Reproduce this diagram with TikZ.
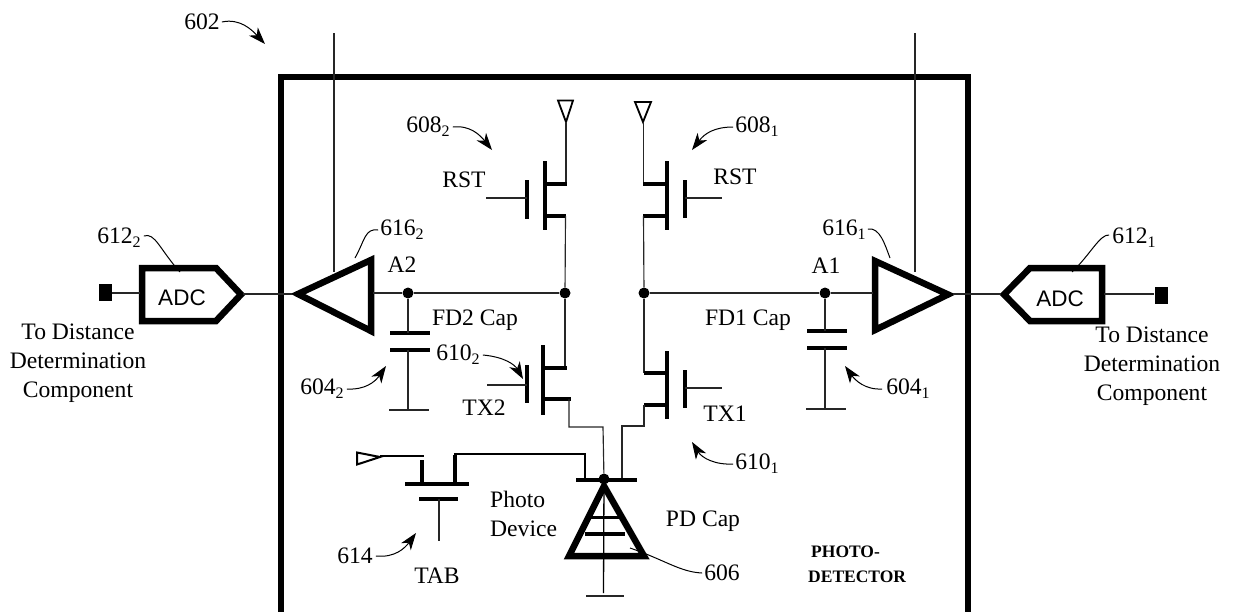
\documentclass[tikz,border=0pt]{standalone}
\usepackage{fontspec}
\setmainfont{Liberation Serif}
\newfontfamily\adcfont{Liberation Sans}
\usetikzlibrary{arrows.meta}
\newcommand{\subnum}[1]{\raisebox{-4pt}{\fontsize{16}{18}\selectfont #1}}
\tikzset{
  x=1pt,y=-1pt,
  wire/.style={line width=1.15pt,black!85},
  term/.style={line width=3.2pt,line cap=butt},
  plate/.style={line width=4.2pt},
  heavy/.style={line width=6.5pt,line join=miter},
  txt/.style={inner sep=0pt,font=\fontsize{23.6}{27}\selectfont},
  boldtxt/.style={inner sep=0pt,font=\fontsize{17.5}{20}\selectfont\bfseries},
  adctxt/.style={inner sep=0pt,font=\fontsize{22.5}{26}\selectfont\adcfont},
  leader/.style={line width=1pt},
  pointer/.style={line width=1pt,-{Stealth[length=17pt,width=12pt,inset=5pt]}},
  junction/.style={circle,fill=black,inner sep=0pt,minimum size=11pt},
  pad/.style={fill=black,inner sep=0pt,minimum width=13pt,minimum height=17pt},
}
\begin{document}
\begin{tikzpicture}
\useasboundingbox (0,0) rectangle (1234,611);
% frame
\draw[line width=6.5pt] (281,640) -- (281,77) -- (968,77) -- (968,640);
\coordinate (top2) at (334,33); \coordinate (bias2) at (334,272);
\coordinate (top1) at (915,33); \coordinate (bias1) at (915,272);
\draw[wire] (top2) -- (bias2);
\draw[wire] (top1) -- (bias1);
% junctions
\node[junction] (a2) at (408,293) {};
\node[junction] (n2) at (565,293) {};
\node[junction] (n1) at (644,293) {};
\node[junction] (a1) at (825,293) {};
\node[junction] (pdt) at (604,479) {};
% ADCs and pads
\node[pad] (padl) at (105,292) {};
\node[pad] (padr) at (1161,295) {};
\draw[heavy] (142,268) -- (216,268) -- (241,294.5) -- (216,321) -- (142,321) -- cycle;
\draw[heavy] (1102,268) -- (1030,268) -- (1004,294.5) -- (1030,321) -- (1102,321) -- cycle;
\node[adctxt] (adcl) at (182,298) {ADC};
\node[adctxt] (adcr) at (1060,299) {ADC};
% amplifiers
\draw[heavy] (371,260) -- (298,294) -- (371,331) -- cycle;
\draw[heavy] (875,261) -- (948,294.5) -- (875,330) -- cycle;
% signal wires
\draw[wire] (padl.east|-0,293) -- (140,293);
\draw[wire] (243,294) -- (292,294);
\draw[wire] (373,293) -- (a2) -- (n2);
\draw[wire] (n1) -- (a1) -- (873,293);
\draw[wire] (953,294) -- (1001,294);
\draw[wire] (1104,294) -- (padr.west|-0,294);
% FD capacitors
\draw[plate] (390,333) -- (430,333);
\draw[plate] (390,350) -- (430,350);
\draw[wire] (a2) -- (408,333) (408,350) -- (408,409);
\draw[wire] (389,410) -- (429,410);
\draw[plate] (807,331) -- (847,331);
\draw[plate] (807,348) -- (847,348);
\draw[wire] (a1) -- (825,331) (825,348) -- (825,409);
\draw[wire] (806,409) -- (846,409);
% reset transistor 2
\draw[line width=1.8pt] (558,100.5) -- (573,100.5) -- (566,122) -- cycle;
\draw[wire] (566,122) -- (566,184);
\draw[plate] (545,161) -- (545,230);
\draw[term] (545,184) -- (566.5,184);
\draw[term] (545,216) -- (566,216);
\draw[wire] (565.5,216) -- (n2);
\draw[plate] (527,180) -- (527,219);
\draw[wire] (486,198) -- (527,198);
% reset transistor 1
\draw[line width=1.8pt] (635,102) -- (651,102) -- (643,122) -- cycle;
\draw[wire] (643.5,122) -- (643.5,184);
\draw[plate] (667,161) -- (667,230);
\draw[term] (643,184) -- (667,184);
\draw[term] (643,216) -- (667,216);
\draw[wire] (643.5,216) -- (n1);
\draw[plate] (685,180) -- (685,218);
\draw[wire] (685,198) -- (722,198);
% transfer transistor 2
\draw[wire] (n2) -- (565,368);
\draw[plate] (543,345) -- (543,415);
\draw[term] (543,368) -- (567,368);
\draw[term] (543,399) -- (571,399);
\draw[wire] (569,399) -- (569,427) -- (603,427) -- (pdt);
\draw[plate] (527,365) -- (527,403);
\draw[wire] (487,385) -- (527,385);
% transfer transistor 1
\draw[wire] (n1) -- (644,373);
\draw[plate] (667,351) -- (667,419);
\draw[term] (644,373) -- (667,373);
\draw[term] (644,405) -- (667,405);
\draw[wire] (644,405) -- (644,426) -- (622,426) -- (622,480);
\draw[plate] (685,370) -- (685,408);
\draw[wire] (685,388) -- (722,388);
% photo device
\draw[line width=6.5pt,line join=miter] (604,486) -- (569,556) -- (644,556) -- cycle;
\draw[term] (576,480) -- (637,480);
\draw[line width=1.3pt] (pdt) -- (603.5,593);
\draw[wire] (586,596) -- (624,596);
\draw[line width=3pt] (590,517) -- (620,517);
\draw[plate] (585,534) -- (625,534);
% TAB transistor
\draw[line width=2pt] (380,457) -- (357,452.5) -- (357,464.5) -- cycle;
\draw[line width=1.4pt] (380,456) -- (424,456);
\draw[term] (422,460) -- (422,484);
\draw[term] (455,455) -- (455,484);
\draw[term] (405,484) -- (469,484);
\draw[line width=2.2pt] (454,454) -- (585,454) -- (585,480);
\draw[term] (419,499) -- (458,499);
\draw[wire] (439,499) -- (439,541);
% texts
\node[txt] (l602) at (202,22) {602};
\node[txt] (l6082) at (428,127) {608\subnum{2}};
\node[txt] (l6081) at (757,127) {608\subnum{1}};
\node[txt] (rstl) at (464,180) {RST};
\node[txt] (rstr) at (735,177) {RST};
\node[txt] (la2) at (402,265) {A2};
\node[txt] (la1) at (826,266) {A1};
\node[txt] (fd2) at (475,320) {FD2 Cap};
\node[txt] (fd1) at (748,320) {FD1 Cap};
\node[txt] (l6102) at (458,355) {610\subnum{2}};
\node[txt] (l6101) at (757,464) {610\subnum{1}};
\node[txt] (tx2) at (484,408) {TX2};
\node[txt] (tx1) at (725,414) {TX1};
\node[txt] (l6042) at (322,389) {604\subnum{2}};
\node[txt] (l6041) at (908,389) {604\subnum{1}};
\node[txt] (l6122) at (119,238) {612\subnum{2}};
\node[txt] (l6121) at (1134,238) {612\subnum{1}};
\node[txt] (l6162) at (402,230) {616\subnum{2}};
\node[txt] (l6161) at (844,230) {616\subnum{1}};
\node[txt,align=center] (distl) at (78,363) {To Distance\\[2pt]Determination\\[2pt]Component};
\node[txt,align=center] (distr) at (1152,366) {To Distance\\[2pt]Determination\\[2pt]Component};
\node[txt,anchor=west] (photo) at (490,499) {Photo};
\node[txt,anchor=west] (device) at (490,529) {Device};
\node[txt] (pdcap) at (703,521) {PD Cap};
\node[txt] (tab) at (437,576) {TAB};
\node[txt] (l614) at (355,556) {614};
\node[txt] (l606) at (722,573) {606};
\node[boldtxt,anchor=west] (pd1) at (811,552) {PHOTO-};
\node[boldtxt,anchor=west] (pd2) at (808,577) {DETECTOR};
% pointers and leaders
\coordinate (t602) at (265,44);
\coordinate (t6082) at (492,150);
\coordinate (t6081) at (692,150);
\coordinate (t6102) at (523,379);
\coordinate (t6101) at (692,442);
\coordinate (t6042) at (386,366);
\coordinate (t6041) at (845,366);
\coordinate (t614) at (416,533);
\coordinate (e6122) at (180,272);
\coordinate (e6121) at (1072,272);
\coordinate (e6162) at (355,258);
\coordinate (e6161) at (890,258);
\coordinate (e606) at (630,548);
\draw[pointer] (l602.east) ++(2,0) .. controls (240,18) and (252,30) .. (t602);
\draw[pointer] (l6082.east) ++(3,0) .. controls (470,125) and (480,135) .. (t6082);
\draw[pointer] (l6081.west) ++(-2,0) .. controls (715,127) and (705,133) .. (t6081);
\draw[pointer] (l6102.east) ++(3,0) .. controls (505,357) and (515,365) .. (t6102);
\draw[pointer] (l6101.west) ++(-2,0) .. controls (715,465) and (702,458) .. (t6101);
\draw[pointer] (l6042.east) ++(3,0) .. controls (365,390) and (375,382) .. (t6042);
\draw[pointer] (l6041.west) ++(-4,0) .. controls (865,390) and (855,380) .. (t6041);
\draw[pointer] (l614.east) ++(3,0) .. controls (395,558) and (405,548) .. (t614);
\draw[leader] (l6122.east) ++(3,-2) .. controls (155,232) and (160,250) .. (e6122);
\draw[leader] (l6121.west) ++(-3,-3) .. controls (1100,234) and (1090,255) .. (e6121);
\draw[leader] (l6162.west) ++(-2,0) .. controls (365,228) and (365,240) .. (e6162);
\draw[leader] (l6161.east) ++(2,-1) .. controls (880,227) and (885,245) .. (e6161);
\draw[leader] (l606.west) ++(-2,0) .. controls (680,572) and (665,560) .. (e606);
\end{tikzpicture}
\end{document}
